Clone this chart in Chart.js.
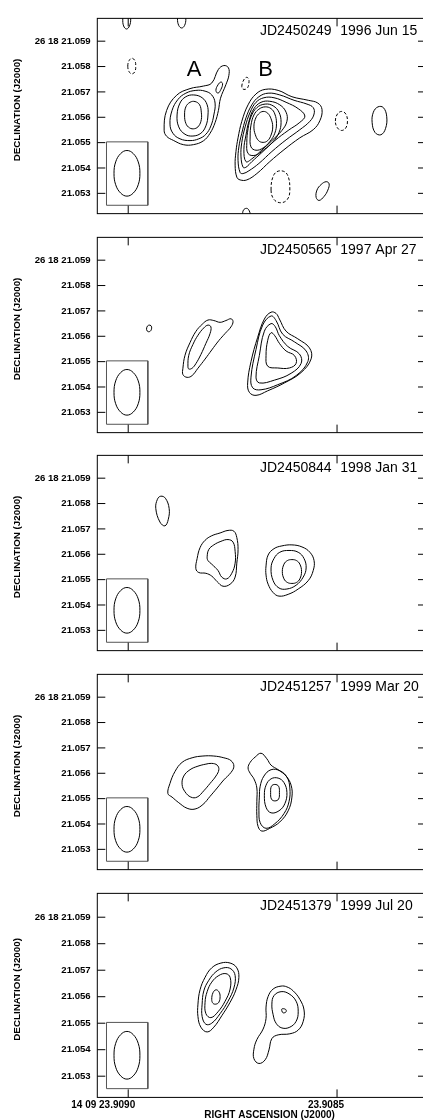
<!DOCTYPE html>
<html><head><meta charset="utf-8">
<script src="https://cdn.jsdelivr.net/npm/chart.js@4.4.1/dist/chart.umd.min.js"></script>
<style>
html,body{margin:0;padding:0;background:#fff;overflow:hidden;width:423px;height:1120px;position:relative;}
canvas{position:absolute;left:0;}
</style></head><body>
<script>
// ---- axis values: x = RA offset from 14 09 23.9085 in units of 0.0001 s; y = Dec offset from 26 18 21.050 in mas ----
const raTicks = [5, 0];
const raLabels = ['14 09 23.9090', '23.9085'];
const decTicks = [3, 4, 5, 6, 7, 8, 9];
const epochs = ['JD2450249', 'JD2450565', 'JD2450844', 'JD2451257', 'JD2451379'];
const dates = ['1996 Jun 15', '1997 Apr 27', '1998 Jan 31', '1999 Mar 20', '1999 Jul 20'];

// restoring beam and its box
const beamBox = [[5.52,5.03],[4.53,5.03],[4.53,2.53],[5.52,2.53]];
const beam = [[5.34,3.79],[5.30,4.24],[5.18,4.57],[5.03,4.69],[4.88,4.57],[4.76,4.24],[4.72,3.79],[4.76,3.34],[4.88,3.01],[5.03,2.89],[5.18,3.01],[5.30,3.34]];

// ---- Panel 1 (1996 Jun 15) ----
const p1A = [
 [[4.14,5.49],[4.08,6.27],[3.84,6.87],[3.52,7.13],[3.20,7.23],[3.00,7.35],[2.84,7.89],[2.71,8.04],[2.60,7.95],[2.59,7.65],[2.66,7.29],[2.79,6.75],[2.84,6.27],[2.92,5.79],[3.04,5.37],[3.20,5.07],[3.44,4.92],[3.68,4.92],[3.92,5.09],[4.08,5.25]],
 [[4.00,5.73],[3.95,6.27],[3.81,6.70],[3.62,6.95],[3.38,7.06],[3.16,7.03],[3.00,6.88],[2.92,6.56],[2.95,6.09],[3.02,5.66],[3.14,5.33],[3.31,5.15],[3.52,5.08],[3.76,5.15],[3.93,5.37]],
 [[3.83,6.09],[3.76,6.56],[3.62,6.81],[3.43,6.88],[3.23,6.77],[3.11,6.49],[3.09,6.09],[3.14,5.66],[3.26,5.37],[3.45,5.26],[3.64,5.33],[3.79,5.62]],
 [[3.65,6.09],[3.62,6.41],[3.52,6.59],[3.40,6.62],[3.29,6.49],[3.25,6.20],[3.25,5.91],[3.31,5.66],[3.41,5.55],[3.53,5.58],[3.62,5.76]],
 [[2.90,7.06],[2.85,7.28],[2.78,7.39],[2.74,7.32],[2.78,7.10],[2.85,6.95]]
];
const p1B = [
 [[2.40,3.64],[2.44,4.11],[2.42,4.65],[2.37,5.19],[2.28,5.84],[2.13,6.49],[1.94,6.92],[1.72,7.10],[1.41,7.06],[1.08,6.81],[0.69,6.67],[0.46,6.56],[0.36,6.31],[0.41,5.87],[0.57,5.51],[0.89,5.19],[1.27,4.72],[1.61,4.25],[1.92,3.78],[2.16,3.53],[2.32,3.53]],
 [[2.32,3.82],[2.37,4.29],[2.35,4.83],[2.28,5.37],[2.18,5.98],[2.04,6.49],[1.87,6.81],[1.65,6.95],[1.37,6.88],[1.03,6.67],[0.72,6.52],[0.57,6.38],[0.55,6.13],[0.65,5.84],[0.89,5.51],[1.22,5.11],[1.56,4.65],[1.87,4.18],[2.11,3.89],[2.25,3.78]],
 [[2.25,4.03],[2.30,4.47],[2.28,5.01],[2.20,5.62],[2.08,6.20],[1.94,6.59],[1.75,6.77],[1.51,6.77],[1.22,6.59],[0.93,6.34],[0.77,6.05],[0.89,5.80],[1.17,5.48],[1.49,5.08],[1.80,4.61],[2.04,4.25],[2.18,4.03]],
 [[2.18,4.25],[2.23,4.72],[2.18,5.30],[2.11,5.84],[1.99,6.34],[1.82,6.59],[1.61,6.63],[1.37,6.49],[1.22,6.20],[1.20,5.84],[1.32,5.48],[1.56,5.08],[1.82,4.68],[2.04,4.36]],
 [[2.13,4.57],[2.16,5.01],[2.13,5.55],[2.06,6.02],[1.92,6.38],[1.72,6.52],[1.53,6.45],[1.39,6.20],[1.34,5.80],[1.39,5.40],[1.53,5.04],[1.75,4.72],[1.96,4.50]],
 [[2.06,4.83],[2.08,5.26],[2.06,5.69],[1.99,6.09],[1.87,6.32],[1.72,6.41],[1.58,6.34],[1.49,6.13],[1.45,5.76],[1.49,5.37],[1.61,5.04],[1.77,4.79],[1.94,4.70]],
 [[1.99,5.62],[1.96,5.91],[1.88,6.13],[1.77,6.23],[1.66,6.16],[1.58,5.94],[1.54,5.62],[1.58,5.30],[1.66,5.08],[1.77,5.01],[1.88,5.08],[1.96,5.33]]
];
const p1Pos = [
 [[-0.84,5.80],[-0.87,6.20],[-0.98,6.41],[-1.11,6.38],[-1.19,6.02],[-1.16,5.55],[-1.05,5.31],[-0.91,5.40]],
 [[0.50,2.84],[0.48,3.13],[0.38,3.35],[0.26,3.46],[0.19,3.38],[0.22,3.13],[0.31,2.88],[0.43,2.72]],
 [[5.13,9.88],[5.11,9.60],[5.04,9.48],[4.97,9.60],[4.94,9.88],[4.97,10.16],[5.04,10.27],[5.11,10.16]],
 [[3.82,9.88],[3.79,9.62],[3.72,9.52],[3.65,9.62],[3.62,9.88],[3.65,10.13],[3.72,10.24],[3.79,10.13]],
 [[2.26,2.16],[2.24,2.34],[2.17,2.41],[2.11,2.34],[2.08,2.16],[2.11,1.98],[2.17,1.90],[2.24,1.98]]
];
const p1Neg = [
 [[5.01,8.02],[4.98,8.23],[4.91,8.33],[4.84,8.23],[4.82,8.02],[4.84,7.80],[4.91,7.71],[4.98,7.80]],
 [[2.28,7.21],[2.25,7.42],[2.18,7.57],[2.12,7.53],[2.11,7.35],[2.14,7.17],[2.20,7.10],[2.26,7.12]],
 [[0.04,5.85],[-0.01,6.13],[-0.11,6.23],[-0.21,6.13],[-0.25,5.85],[-0.21,5.58],[-0.11,5.48],[-0.01,5.58]],
 [[1.58,3.13],[1.51,3.74],[1.35,3.89],[1.19,3.74],[1.13,3.13],[1.19,2.76],[1.35,2.63],[1.51,2.76]]
];

// ---- Panel 2 (1997 Apr 27) ----
const p2A = [
 [[3.69,4.74],[3.64,5.25],[3.52,5.75],[3.38,6.19],[3.23,6.47],[3.09,6.64],[2.95,6.62],[2.80,6.55],[2.66,6.62],[2.54,6.69],[2.49,6.58],[2.54,6.37],[2.68,6.11],[2.83,5.83],[3.00,5.46],[3.16,5.10],[3.33,4.74],[3.47,4.45],[3.59,4.38],[3.69,4.49]],
 [[3.57,4.82],[3.55,5.25],[3.45,5.68],[3.33,6.04],[3.19,6.33],[3.09,6.44],[3.02,6.37],[3.04,6.11],[3.14,5.72],[3.26,5.28],[3.38,4.92],[3.47,4.74],[3.55,4.71]]
];
const p2B = [
 [[1.58,6.95],[1.74,6.68],[1.90,5.96],[2.06,5.00],[2.14,4.16],[2.10,3.79],[1.94,3.67],[1.66,3.85],[1.26,4.16],[0.86,4.57],[0.62,5.11],[0.66,5.54],[0.94,5.90],[1.22,6.20],[1.38,6.68],[1.46,6.90]],
 [[1.58,6.80],[1.78,6.44],[1.94,5.48],[2.06,4.39],[2.02,3.97],[1.82,3.89],[1.42,4.09],[0.98,4.45],[0.70,5.00],[0.74,5.42],[1.02,5.78],[1.30,6.08],[1.46,6.62]],
 [[1.58,6.50],[1.74,6.20],[1.86,5.24],[1.94,4.39],[1.86,4.16],[1.50,4.27],[1.10,4.54],[0.86,4.93],[0.90,5.30],[1.18,5.60],[1.38,6.02],[1.48,6.38]],
 [[1.58,6.14],[1.66,5.84],[1.70,5.24],[1.66,4.82],[1.42,4.75],[1.14,4.75],[0.98,4.93],[1.02,5.24],[1.22,5.42],[1.38,5.72],[1.49,6.02]]
];
const p2Pos = [
 [[4.56,6.26],[4.54,6.40],[4.48,6.44],[4.44,6.37],[4.46,6.22],[4.52,6.18]]
];

// ---- Panel 3 (1998 Jan 31) ----
const p3A = [
 [[3.38,5.43],[3.35,5.83],[3.28,6.26],[3.16,6.55],[3.00,6.73],[2.80,6.84],[2.61,6.94],[2.47,6.91],[2.40,6.66],[2.37,6.19],[2.40,5.65],[2.44,5.10],[2.56,4.82],[2.73,4.74],[2.87,4.92],[3.00,5.14],[3.14,5.25],[3.31,5.28]],
 [[3.11,5.90],[3.07,6.19],[2.95,6.37],[2.78,6.51],[2.61,6.58],[2.49,6.48],[2.44,6.11],[2.44,5.65],[2.52,5.25],[2.64,5.03],[2.76,5.10],[2.85,5.36],[3.00,5.61],[3.09,5.75]]
];
const p3B = [
 [[1.70,5.54],[1.65,5.97],[1.51,6.22],[1.32,6.33],[1.08,6.37],[0.84,6.29],[0.65,6.08],[0.55,5.75],[0.57,5.36],[0.69,4.96],[0.93,4.63],[1.17,4.42],[1.39,4.35],[1.53,4.49],[1.65,4.82],[1.70,5.18]],
 [[1.58,5.46],[1.51,5.83],[1.37,6.08],[1.15,6.15],[0.93,6.08],[0.79,5.83],[0.74,5.46],[0.81,5.10],[0.98,4.78],[1.20,4.63],[1.39,4.67],[1.53,4.96]],
 [[1.31,5.32],[1.27,5.61],[1.19,5.75],[1.08,5.79],[0.97,5.75],[0.89,5.61],[0.85,5.32],[0.89,5.03],[0.97,4.89],[1.08,4.85],[1.19,4.89],[1.27,5.03]]
];
const p3Pos = [
 [[4.34,7.81],[4.30,8.17],[4.22,8.29],[4.11,8.21],[4.02,7.81],[4.04,7.38],[4.12,7.12],[4.24,7.27]]
];

// ---- Panel 4 (1999 Mar 20) ----
const p4A = [
 [[4.05,5.20],[4.00,5.60],[3.88,6.07],[3.71,6.43],[3.47,6.61],[3.21,6.68],[2.95,6.68],[2.71,6.61],[2.54,6.50],[2.47,6.28],[2.54,6.03],[2.71,5.74],[2.87,5.42],[3.04,5.09],[3.21,4.77],[3.40,4.59],[3.59,4.62],[3.79,4.84],[3.95,5.06]],
 [[3.71,5.56],[3.67,5.89],[3.52,6.14],[3.33,6.28],[3.14,6.36],[3.00,6.39],[2.87,6.32],[2.83,6.14],[2.90,5.89],[3.04,5.60],[3.19,5.31],[3.35,5.06],[3.50,5.06],[3.64,5.27]]
];
const p4B = [
 [[1.82,6.79],[1.96,6.64],[2.08,6.43],[2.13,6.21],[2.08,6.00],[1.99,5.78],[1.92,5.42],[1.92,4.88],[1.92,4.34],[1.89,3.90],[1.80,3.72],[1.61,3.83],[1.37,4.08],[1.17,4.52],[1.08,5.06],[1.10,5.53],[1.22,5.89],[1.41,6.14],[1.58,6.32],[1.68,6.57]],
 [[1.86,5.06],[1.84,5.49],[1.75,5.89],[1.58,6.14],[1.37,6.10],[1.20,5.85],[1.13,5.42],[1.15,4.88],[1.27,4.41],[1.49,4.01],[1.70,3.83],[1.84,4.05],[1.87,4.52]],
 [[1.74,5.13],[1.70,5.53],[1.58,5.78],[1.41,5.81],[1.27,5.63],[1.20,5.24],[1.25,4.80],[1.39,4.52],[1.58,4.44],[1.70,4.66]],
 [[1.59,5.24],[1.57,5.49],[1.49,5.56],[1.40,5.49],[1.38,5.24],[1.40,4.98],[1.49,4.91],[1.57,4.98]]
];

// ---- Panel 5 (1999 Jul 20) ----
const p5A = [
 [[3.33,5.72],[3.28,6.26],[3.16,6.73],[3.00,7.09],[2.78,7.27],[2.56,7.27],[2.40,7.09],[2.35,6.73],[2.42,6.26],[2.56,5.79],[2.76,5.28],[2.95,4.85],[3.11,4.67],[3.26,4.85],[3.33,5.25]],
 [[3.23,5.72],[3.19,6.22],[3.07,6.62],[2.90,6.94],[2.71,7.09],[2.54,7.05],[2.44,6.80],[2.47,6.33],[2.61,5.83],[2.80,5.36],[3.00,5.00],[3.14,4.96],[3.23,5.25]],
 [[3.16,5.79],[3.11,6.19],[3.00,6.55],[2.83,6.80],[2.66,6.87],[2.56,6.73],[2.56,6.29],[2.68,5.83],[2.85,5.43],[3.02,5.21],[3.14,5.36]],
 [[3.00,5.90],[2.97,6.15],[2.90,6.26],[2.83,6.19],[2.80,6.01],[2.83,5.79],[2.90,5.72],[2.97,5.75]]
];
const p5B = [
 [[1.34,6.40],[1.53,6.29],[1.65,6.01],[1.70,5.61],[1.70,5.18],[1.77,4.78],[1.92,4.38],[1.99,4.02],[1.99,3.66],[1.87,3.48],[1.72,3.62],[1.63,3.99],[1.56,4.42],[1.41,4.56],[1.13,4.60],[0.93,4.74],[0.81,5.07],[0.79,5.50],[0.89,5.90],[1.05,6.22],[1.20,6.37]],
 [[1.56,5.72],[1.51,6.04],[1.34,6.19],[1.15,6.11],[0.98,5.83],[0.93,5.43],[0.98,5.07],[1.13,4.85],[1.32,4.82],[1.46,5.00],[1.53,5.32]],
 [[1.32,5.54],[1.23,5.52],[1.22,5.43],[1.29,5.39],[1.32,5.46]]
];

// component labels (panel 1)
const compLabels = ['A', 'B'];
const compLabelPos = [[3.42, 7.64], [1.71, 7.64]];

// ---------------- build ----------------
const panels = [
  {pos: [...p1A, ...p1B, ...p1Pos], neg: p1Neg},
  {pos: [...p2A, ...p2B, ...p2Pos], neg: []},
  {pos: [...p3A, ...p3B, ...p3Pos], neg: []},
  {pos: [...p4A, ...p4B], neg: []},
  {pos: [...p5A, ...p5B], neg: []}
];

const FONT = '"Liberation Sans", Arial, Helvetica, sans-serif';
const TOPS = [9.8, 228.8, 446.8, 665.8, 884.0];
const PH = 213.4, W = 430, LEFT = 97.3, RIGHT = 426;

function closedDataset(c, opts) {
  const n = c.length;
  const pts = [c[n - 1], ...c, c[0], c[1]].map(([x, y]) => ({x, y}));
  const last = pts.length - 2;
  return Object.assign({
    data: pts, showLine: true, pointRadius: 0, pointHoverRadius: 0,
    borderColor: '#000', borderWidth: 1, tension: 0.4, fill: false,
    segment: {borderColor: s => (s.p0DataIndex === 0 || s.p0DataIndex === last) ? 'rgba(0,0,0,0)' : undefined}
  }, opts || {});
}

const deco = {
  id: 'deco',
  afterDraw(chart, args, o) {
    const {ctx, chartArea: a} = chart;
    const x = chart.scales.x, y = chart.scales.y;
    const i = o.idx;
    ctx.save();
    ctx.strokeStyle = '#000'; ctx.lineWidth = 1;
    ctx.strokeRect(a.left, a.top, a.right - a.left, a.bottom - a.top);
    ctx.beginPath();
    raTicks.forEach(v => {
      const px = x.getPixelForValue(v);
      ctx.moveTo(px, a.top); ctx.lineTo(px, a.top + 8);
      ctx.moveTo(px, a.bottom); ctx.lineTo(px, a.bottom - 8);
    });
    decTicks.forEach(v => {
      const py = y.getPixelForValue(v);
      ctx.moveTo(a.left, py); ctx.lineTo(a.left + 8, py);
      ctx.moveTo(a.right, py); ctx.lineTo(a.right - 8, py);
    });
    ctx.stroke();
    ctx.fillStyle = '#000';
    ctx.textBaseline = 'alphabetic';
    ctx.textAlign = 'left';
    ctx.font = '14px ' + FONT;
    ctx.fillText(epochs[i], a.right - 166, a.top + 16.3);
    ctx.fillText(dates[i], a.right - 85.7, a.top + 16.3);
    if (i === 0) {
      ctx.font = '22px ' + FONT;
      ctx.textAlign = 'center';
      compLabels.forEach((t, k) => ctx.fillText(t, x.getPixelForValue(compLabelPos[k][0]), y.getPixelForValue(compLabelPos[k][1])));
    }
    // y title
    ctx.save();
    ctx.translate(17, (a.top + a.bottom) / 2 - 6);
    ctx.rotate(-Math.PI / 2);
    ctx.font = 'bold 9.8px ' + FONT;
    ctx.textAlign = 'center'; ctx.textBaseline = 'middle';
    ctx.fillText('DECLINATION (J2000)', 0, 0);
    ctx.restore();
    if (i === 4) {
      ctx.font = 'bold 10px ' + FONT;
      ctx.textAlign = 'right'; ctx.textBaseline = 'alphabetic';
      raTicks.forEach((v, k) => ctx.fillText(raLabels[k], x.getPixelForValue(v) + 7, a.bottom + 11));
      ctx.textAlign = 'center';
      ctx.fillText('RIGHT ASCENSION (J2000)', (a.left + a.right) / 2 + 8, a.bottom + 20.6);
    }
    ctx.restore();
  }
};

panels.forEach((p, i) => {
  const cv = document.createElement('canvas');
  const ct = Math.floor(TOPS[i]) - 3;
  const ch = i === 4 ? 1120 - ct : 220;
  cv.width = W; cv.height = ch;
  cv.style.top = ct + 'px'; cv.style.width = W + 'px'; cv.style.height = ch + 'px';
  document.body.appendChild(cv);
  const padTop = TOPS[i] - ct;
  const padBottom = ch - padTop - PH;
  const datasets = [];
  datasets.push(closedDataset(beamBox, {borderColor: '#555', tension: 0}));
  datasets.push(closedDataset(beam));
  p.pos.forEach(c => datasets.push(closedDataset(c)));
  p.neg.forEach(c => datasets.push(closedDataset(c, {borderDash: [3, 2]})));
  new Chart(cv, {
    type: 'scatter',
    data: {datasets},
    options: {
      responsive: false, animation: false, devicePixelRatio: 1, events: [],
      layout: {padding: {top: padTop, bottom: padBottom, left: 0, right: W - RIGHT}},
      plugins: {legend: {display: false}, tooltip: {enabled: false}, deco: {idx: i}},
      scales: {
        x: {type: 'linear', min: -2.13, max: 5.74, reverse: true, display: false},
        y: {
          type: 'linear', min: 2.20, max: 9.90, position: 'left',
          grid: {display: false, drawTicks: false}, border: {display: false},
          afterBuildTicks: s => { s.ticks = decTicks.map(v => ({value: v})); },
          afterFit: s => { s.width = LEFT; },
          ticks: {
            padding: 6.6, color: '#000',
            font: {family: FONT, size: 9.6, weight: 'bold'},
            callback: v => v === 9 ? '26 18 21.059' : (21.05 + v / 1000).toFixed(3)
          }
        }
      }
    },
    plugins: [deco]
  });
});
</script>
</body></html>
